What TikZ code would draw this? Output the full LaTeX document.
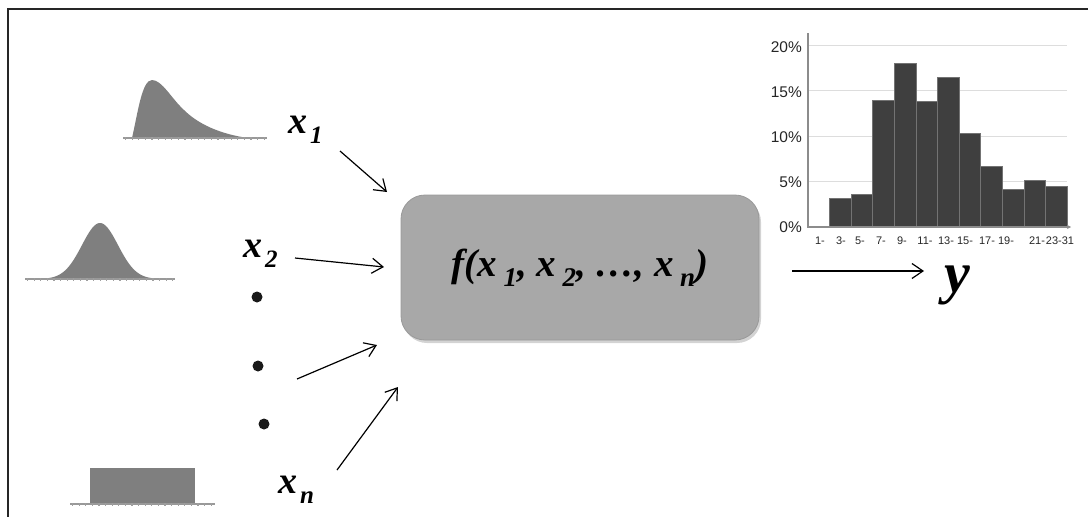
\documentclass[tikz,border=0pt]{standalone}
\usepackage{fontspec}
\setmainfont{Liberation Serif}
\newfontfamily\histfont{Liberation Sans}
\usetikzlibrary{arrows.meta,shadows}
\definecolor{distgray}{HTML}{7F7F7F}
\definecolor{boxgray}{HTML}{A8A8A8}
\definecolor{bargray}{HTML}{3F3F3F}
\definecolor{gridgray}{HTML}{DDDDDD}
\definecolor{axisgray}{HTML}{8C8C8C}
\newcommand{\subsc}[3]{\raisebox{-#1}{\fontsize{#2}{#2}\selectfont #3}}
\tikzset{
  dist/.style={fill=distgray, draw=none},
  base/.style={draw=distgray!80, line width=1.1pt},
  ticks/.style={draw=distgray!75, line width=3.4pt, dash pattern=on 1.1pt off 5.5pt},
  lab/.style={font=\fontsize{38}{38}\selectfont\bfseries\itshape, inner sep=0pt, anchor=base west},
  arr/.style={line width=1.2pt, -{Straight Barb[length=11pt,width=15pt,line width=1.2pt]}},
  dotn/.style={circle, fill=black!90, inner sep=0pt, minimum size=11pt},
  fbox/.style={rounded corners=24pt, fill=boxgray, draw=black!40, line width=0.8pt,
    drop shadow={shadow xshift=2pt, shadow yshift=-3pt, opacity=0.35},
    minimum width=358pt, minimum height=145pt, inner sep=0pt,
    font=\fontsize{39}{39}\selectfont\bfseries\itshape},
  bar/.style={fill=bargray, draw=black!55, line width=0.6pt},
  ylab/.style={font=\histfont\fontsize{15.5}{15.5}\selectfont, text=black!85, anchor=east, inner sep=0pt},
  xlab/.style={font=\histfont\fontsize{11}{11}\selectfont, text=black!85, anchor=base, inner sep=0pt},
  outlab/.style={font=\fontsize{58}{58}\selectfont\bfseries\itshape, inner sep=0pt,
    text height=26pt, text depth=14pt, anchor=base west},
}
\begin{document}
\begin{tikzpicture}[x=1pt,y=-1pt]
\useasboundingbox (0,0) rectangle (1088,517);
% frame
\draw[line width=2pt, black!85] (8,517) -- (8,9) -- (1088,9);

% skewed distribution
\fill[dist] (132,138) .. controls (138,112) and (142,80) .. (152,80)
  .. controls (162,80) and (171,98) .. (184,110)
  .. controls (198,124) and (220,134) .. (248,138) -- cycle;
\draw[base] (123,138) -- (267,138);
\draw[ticks] (125,138.5) -- (267,138.5);

% normal distribution
\fill[dist] (35,279) -- plot[domain=35:165, samples=80, smooth] (\x, {279-56*exp(-((\x-100)/18)^2/2)}) -- cycle;
\draw[base] (25,279) -- (175,279);
\draw[ticks] (27,279.5) -- (175,279.5);

% uniform distribution
\fill[dist] (90,468) rectangle (195,503);
\draw[base] (70,504) -- (215,504);
\draw[ticks] (72,504.5) -- (215,504.5);

% labels
\node[lab] (x1) at (288,133) {x\kern3pt\subsc{10pt}{25}{1}};
\node[lab] (x2) at (243,257) {x\kern3pt\subsc{10pt}{25}{2}};
\node[lab] (xn) at (278,493) {x\kern3pt\subsc{10pt}{25}{n}};

% dots
\node[dotn] (d1) at (257,297) {};
\node[dotn] (d2) at (258,366) {};
\node[dotn] (d3) at (264,424) {};

% function box
\node[fbox] (f) at (580,267.5) {f(x\,\subsc{10pt}{27}{1}, x\,\subsc{10pt}{27}{2}, …, x\,\subsc{10pt}{27}{n})};

% arrow end points
\coordinate (a1s) at (340,151);
\coordinate (a1e) at (387,192);
\coordinate (a2s) at (295,258);
\coordinate (a2e) at (384,267);
\coordinate (a3s) at (297,379);
\coordinate (a3e) at (377,345);
\coordinate (a4s) at (337,470);
\coordinate (a4e) at (398,387);
\draw[arr] (a1s) -- (a1e);
\draw[arr] (a2s) -- (a2e);
\draw[arr] (a3s) -- (a3e);
\draw[arr] (a4s) -- (a4e);

% output
\node[outlab] (y) at (944,292) {y};
\coordinate (ys) at (792,271);
\coordinate (ye) at (924,271);
\draw[arr] (ys) -- (ye);

% histogram
\foreach \p/\yy in {20/45,15/90.5,10/136,5/181.5} {
  \draw[gridgray, line width=1pt] (809,\yy) -- (1067,\yy);
}
\foreach \i/\h in {1/3.2,2/3.55,3/13.9,4/18.0,5/13.85,6/16.5,7/10.35,8/6.7,9/4.15,10/5.15,11/4.5} {
  \draw[bar] ({808+\i*21.58},227) rectangle ({808+(\i+1)*21.58},{227-\h*9.1});
}
\draw[axisgray, line width=2.4pt] (808,33) -- (808,228);
\draw[axisgray, line width=1.2pt, -{Stealth[length=4pt,width=4pt]}] (808,227) -- (1071,227);
\node[ylab] (p20) at (802,47) {20\%};
\node[ylab] (p15) at (802,92) {15\%};
\node[ylab] (p10) at (802,137) {10\%};
\node[ylab] (p5) at (802,182) {5\%};
\node[ylab] (p0) at (802,227) {0\%};
\foreach \t/\xx in {1-/820,3-/841,5-/860,7-/881,9-/902,11-/925,13-/946,15-/965,17-/987,19-/1006,21-/1037,23-31/1060} {
  \node[xlab] at (\xx,244) {\t};
}
\end{tikzpicture}
\end{document}
